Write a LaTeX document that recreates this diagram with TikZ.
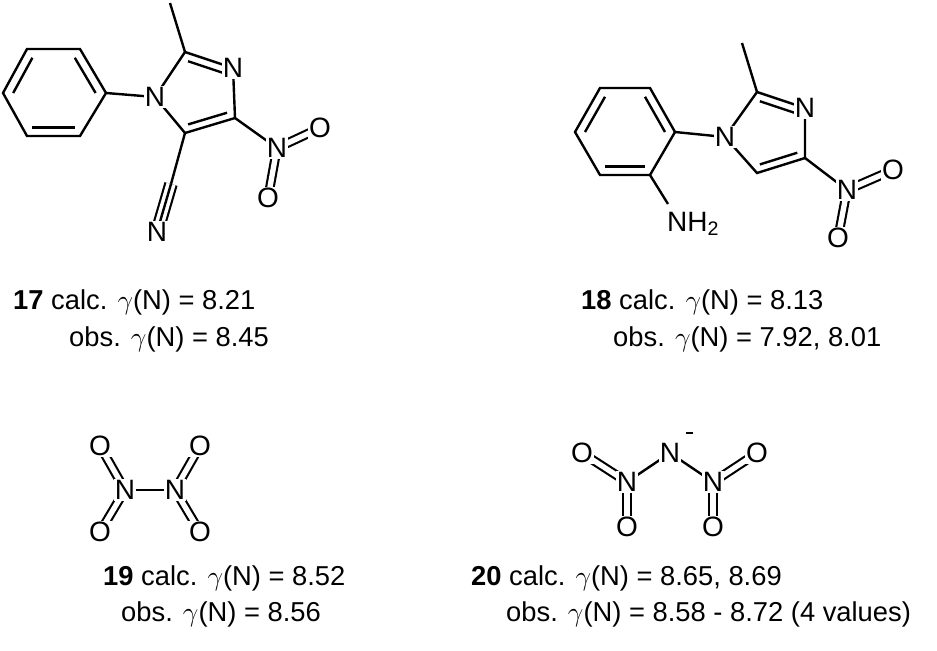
\documentclass[tikz,border=0pt]{standalone}
\usepackage{fontspec}
\setmainfont{Liberation Sans}
\usetikzlibrary{calc}
\begin{document}
\begin{tikzpicture}[x=0.75pt,y=-0.75pt,line width=1.8pt,
  atom/.style={fill=white,inner sep=0.8pt,font=\fontsize{21}{21}\selectfont},
  dbl/.style={double,double distance=4pt,line width=1.6pt},
  lab/.style={anchor=west,inner sep=0pt,font=\fontsize{20.5}{22}\selectfont}]
\useasboundingbox (0,0) rectangle (937,650);
% ---------- 17 ----------
\coordinate (a1) at (27,49);\coordinate (a2) at (80,49);\coordinate (a3) at (106,93);
\coordinate (a4) at (80,136);\coordinate (a5) at (27,136);\coordinate (a6) at (3,93);
\coordinate (ac) at (54,93);
\draw (a1)--(a2)--(a3)--(a4)--(a5)--(a6)--cycle;
\draw ($(a2)!0.2!(ac)$)--($(a3)!0.2!(ac)$);
\draw ($(a4)!0.2!(ac)$)--($(a5)!0.2!(ac)$);
\draw ($(a6)!0.2!(ac)$)--($(a1)!0.2!(ac)$);
\coordinate (n1) at (155,97);\coordinate (c2) at (185,52);\coordinate (me) at (170,3);
\coordinate (n3) at (233,68);\coordinate (c4) at (235,118);\coordinate (c5) at (185,133);
\coordinate (ic) at (199,94);
\coordinate (cc) at (171,184);
\coordinate (cn) at (157,232);\coordinate (nn) at (277,148);
\coordinate (o1) at (320,128);\coordinate (o2) at (268,198);
\draw (a3)--(n1)--(c2)--(n3)--(c4)--(c5)--(n1);
\draw (c2)--(me);
\draw ($(c2)!0.22!(ic)$)--($(n3)!0.22!(ic)$);
\draw ($(c4)!0.22!(ic)$)--($(c5)!0.22!(ic)$);
\draw (c4)--(nn);
\draw (c5)--(cc);
\draw[double,double distance=7pt,line width=1.6pt] (cc)--(cn);
\draw (cc)--(cn);
\draw[dbl] (nn)--(o1);\draw[dbl] (nn)--(o2);
\node[atom] (N1a) at (n1) {N};\node[atom] (N3a) at (n3) {N};
\node[atom] (CNa) at (cn) {N};\node[atom] (NNa) at (nn) {N};
\node[atom] (O1a) at (o1) {O};\node[atom] (O2a) at (o2) {O};
% ---------- 18 ----------
\coordinate (b1) at (600,88);\coordinate (b2) at (650,88);\coordinate (b3) at (675,132);
\coordinate (b4) at (650,175);\coordinate (b5) at (600,175);\coordinate (b6) at (575,132);
\coordinate (bc) at (625,132);
\draw (b1)--(b2)--(b3)--(b4)--(b5)--(b6)--cycle;
\draw ($(b2)!0.2!(bc)$)--($(b3)!0.2!(bc)$);
\draw ($(b4)!0.2!(bc)$)--($(b5)!0.2!(bc)$);
\draw ($(b6)!0.2!(bc)$)--($(b1)!0.2!(bc)$);
\coordinate (m1) at (725,137);\coordinate (m2) at (757,92);\coordinate (mme) at (742,43);
\coordinate (m3) at (805,108);\coordinate (m4) at (805,158);\coordinate (m5) at (757,173);
\coordinate (mc) at (770,134);
\coordinate (mn) at (847,190);\coordinate (mo1) at (893,170);\coordinate (mo2) at (838,238);
\coordinate (nh) at (668,204);
\draw (b3)--(m1)--(m2)--(m3)--(m4)--(m5)--(m1);
\draw (m2)--(mme);
\draw ($(m2)!0.22!(mc)$)--($(m3)!0.22!(mc)$);
\draw ($(m4)!0.22!(mc)$)--($(m5)!0.22!(mc)$);
\draw (m4)--(mn);
\draw[dbl] (mn)--(mo1);\draw[dbl] (mn)--(mo2);
\draw (b4)--(nh);
\node[atom] at (m1) {N};\node[atom] at (m3) {N};\node[atom] at (mn) {N};
\node[atom] at (mo1) {O};\node[atom] at (mo2) {O};
\node[atom,anchor=west,inner sep=0pt] (NH) at (666,224) {NH\textsubscript{2}};
% ---------- 19 ----------
\coordinate (pn1) at (125,490);\coordinate (pn2) at (175,490);
\coordinate (po1) at (100,446);\coordinate (po2) at (100,532);
\coordinate (po3) at (200,446);\coordinate (po4) at (200,532);
\draw (pn1)--(pn2);
\draw[dbl] (pn1)--(po1);\draw[dbl] (pn1)--(po2);
\draw[dbl] (pn2)--(po3);\draw[dbl] (pn2)--(po4);
\node[atom] at (pn1) {N};\node[atom] at (pn2) {N};
\node[atom] at (po1) {O};\node[atom] at (po2) {O};
\node[atom] at (po3) {O};\node[atom] at (po4) {O};
% ---------- 20 ----------
\coordinate (qn1) at (627,482);\coordinate (qn) at (670,453);\coordinate (qn2) at (713,482);
\coordinate (qo1) at (582,453);\coordinate (qo2) at (627,527);
\coordinate (qo3) at (757,453);\coordinate (qo4) at (713,527);
\draw (qn1)--(qn)--(qn2);
\draw[dbl] (qn1)--(qo1);\draw[dbl] (qn1)--(qo2);
\draw[dbl] (qn2)--(qo3);\draw[dbl] (qn2)--(qo4);
\node[atom] at (qn1) {N};\node[atom] at (qn) {N};\node[atom] at (qn2) {N};
\node[atom] at (qo1) {O};\node[atom] at (qo2) {O};
\node[atom] at (qo3) {O};\node[atom] at (qo4) {O};
\draw[line width=1.2pt] (686,433)--(693,433);
% ---------- labels ----------
\node[lab] (l17) at (12,302) {\textbf{17} calc. $\gamma$(N) = 8.21};
\node[lab] (o17) at (68,339) {obs. $\gamma$(N) = 8.45};
\node[lab] (l18) at (580,302) {\textbf{18} calc. $\gamma$(N) = 8.13};
\node[lab] (o18) at (612,339) {obs. $\gamma$(N) = 7.92, 8.01};
\node[lab] (l19) at (102,578) {\textbf{19} calc. $\gamma$(N) = 8.52};
\node[lab] (o19) at (120,614) {obs. $\gamma$(N) = 8.56};
\node[lab] (l20) at (470,578) {\textbf{20} calc. $\gamma$(N) = 8.65, 8.69};
\node[lab] (o20) at (505,614) {obs. $\gamma$(N) = 8.58 - 8.72 (4 values)};
\end{tikzpicture}
\end{document}
